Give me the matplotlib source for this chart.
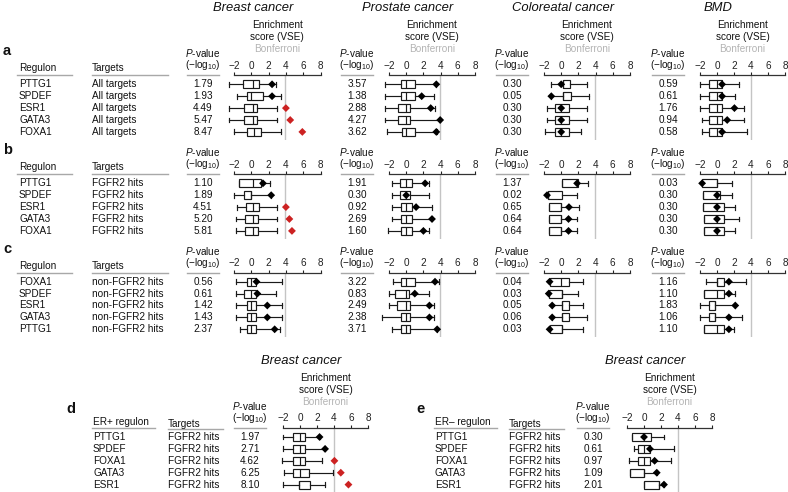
import matplotlib
matplotlib.use("Agg")
import matplotlib.pyplot as plt
from matplotlib.lines import Line2D

plt.rcParams['font.family'] = ['Liberation Sans', 'DejaVu Sans']
plt.rcParams['mathtext.fontset'] = 'custom'
plt.rcParams['mathtext.rm'] = 'Liberation Sans'
plt.rcParams['mathtext.it'] = 'Liberation Sans:italic'

# ---------------- data ----------------
DISEASES = ["Breast cancer", "Prostate cancer", "Coloreatal cancer", "BMD"]

REG_AB = ["PTTG1", "SPDEF", "ESR1", "GATA3", "FOXA1"]
REG_C = ["FOXA1", "SPDEF", "ESR1", "GATA3", "PTTG1"]
REG_DE = ["PTTG1", "SPDEF", "FOXA1", "GATA3", "ESR1"]
TARGET_A = "All targets"
TARGET_B = "FGFR2 hits"
TARGET_C = "non-FGFR2 hits"
TARGET_DE = "FGFR2 hits"

TICKS = [-2, 0, 2, 4, 6, 8]
BONF_LINE = 3.95          # Bonferroni threshold on the VSE axis
BONF_P = 4.3              # -log10 P cut-off used for red points

# P-values (-log10)
A_P = [[1.79, 1.93, 4.49, 5.47, 8.47],
       [3.57, 1.38, 2.88, 4.27, 3.62],
       [0.30, 0.05, 0.30, 0.30, 0.30],
       [0.59, 0.61, 1.76, 0.94, 0.58]]
B_P = [[1.10, 1.89, 4.51, 5.20, 5.81],
       [1.91, 0.30, 0.92, 2.69, 1.60],
       [1.37, 0.02, 0.65, 0.64, 0.64],
       [0.03, 0.30, 0.30, 0.30, 0.30]]
C_P = [[0.56, 0.61, 1.42, 1.43, 2.37],
       [3.22, 0.83, 2.49, 2.38, 3.71],
       [0.04, 0.03, 0.05, 0.06, 0.03],
       [1.16, 1.10, 1.83, 1.06, 1.10]]
D_P = [1.97, 2.71, 4.62, 6.25, 8.10]
E_P = [0.30, 0.61, 0.97, 1.09, 2.01]

# box statistics: (whisker low, q1, median, q3, whisker high)
A_BOX = [
    [(-2.6, -1.0, 0.2, 0.9, 2.9), (-1.6, -0.5, 0.0, 1.3, 3.4), (-2.6, -0.9, 0.2, 0.7, 3.0),
     (-2.6, -0.9, 0.2, 0.7, 3.0), (-2.0, -0.5, 0.3, 1.1, 3.4)],
    [(-2.5, -0.6, 0.0, 1.0, 3.5), (-2.5, -0.6, 0.0, 1.0, 3.2), (-2.5, -0.9, 0.0, 0.4, 3.35),
     (-2.5, -0.9, 0.0, 0.4, 3.95), (-2.2, -0.5, 0.0, 1.0, 3.6)],
    [(-1.15, 0.2, 0.2, 1.05, 3.05), (-1.15, 0.2, 0.2, 1.15, 3.25), (-1.7, -0.7, 0.0, 0.85, 3.05),
     (-1.7, -0.7, 0.0, 0.85, 3.05), (-1.9, -0.7, 0.0, 0.85, 2.3)],
    [(-2.0, -1.0, 0.0, 0.6, 2.55), (-2.0, -1.0, 0.0, 0.6, 2.15), (-2.0, -1.0, 0.0, 0.6, 3.15),
     (-1.8, -1.0, 0.0, 0.6, 3.2), (-1.75, -1.0, 0.0, 0.6, 3.5)],
]
A_VSE = [[2.4, 2.4, 4.0, 4.5, 5.9],
         [3.5, 1.8, 2.85, 3.95, 3.5],
         [0.0, -1.15, 0.0, 0.0, 0.0],
         [0.6, 0.6, 2.05, 1.2, 0.6]]

B_BOX = [
    [(-1.4, -1.4, 0.2, 1.1, 2.2), (-2.0, -0.85, 0.0, 0.0, 2.3), (-1.7, -0.65, 0.2, 0.9, 3.0),
     (-1.8, -0.7, 0.2, 0.8, 3.0), (-1.8, -0.7, 0.2, 0.8, 3.0)],
    [(-1.65, -0.7, 0.0, 0.65, 2.7), (-1.65, -0.7, 0.0, 0.45, 2.7), (-1.65, -0.6, 0.0, 0.65, 3.0),
     (-1.65, -0.6, 0.0, 0.65, 3.0), (-2.15, -0.6, 0.0, 0.65, 2.7)],
    [(0.1, 0.1, 1.85, 1.9, 3.1), (-1.5, -1.5, -1.5, 0.1, 1.85), (-1.45, -1.45, 0.0, 0.0, 2.1),
     (-1.45, -1.45, 0.0, 0.0, 1.85), (-1.45, -1.45, 0.0, 0.0, 1.85)],
    [(-1.75, -1.75, 0.0, 0.0, 1.75), (-1.6, -1.6, 0.0, 0.3, 1.75), (-1.6, -1.6, 0.0, 0.8, 2.15),
     (-1.55, -1.55, 0.0, 0.8, 2.55), (-1.55, -1.55, 0.0, 0.8, 2.15)],
]
B_VSE = [[1.35, 2.3, 4.0, 4.4, 4.7],
         [2.2, 0.0, 1.15, 3.0, 2.0],
         [1.85, -1.65, 0.9, 0.85, 0.85],
         [-1.75, 0.0, 0.0, 0.0, 0.0]]

C_BOX = [
    [(-1.8, -0.55, 0.0, 0.5, 3.6), (-1.8, -0.85, 0.0, 0.6, 2.9), (-1.8, -0.55, 0.0, 0.6, 3.6),
     (-1.8, -0.55, 0.0, 0.6, 3.6), (-1.3, -0.55, 0.0, 0.6, 3.3)],
    [(-1.55, -0.6, 0.0, 1.0, 3.85), (-2.0, -1.25, 0.0, 0.3, 2.7), (-2.0, -1.1, 0.0, 0.4, 3.2),
     (-2.8, -0.6, 0.0, 0.4, 3.2), (-1.65, -0.6, 0.0, 0.4, 3.6)],
    [(-1.35, -1.35, 0.0, 0.95, 2.5), (-1.45, -1.45, 0.1, 0.1, 1.9), (-1.05, 0.05, 0.05, 0.95, 2.5),
     (-1.05, 0.05, 0.05, 0.95, 3.05), (-1.35, -1.35, 0.1, 0.1, 2.5)],
    [(-1.25, 0.0, 0.0, 0.8, 3.45), (-1.55, -1.55, 0.0, 0.8, 2.15), (-2.05, -1.0, -0.2, -0.2, 2.15),
     (-2.05, -1.0, -0.2, -0.2, 2.95), (-1.55, -1.55, 0.0, 0.8, 2.05)],
]
C_VSE = [[0.6, 0.7, 1.85, 1.85, 2.7],
         [3.35, 1.0, 2.7, 2.7, 3.6],
         [-1.35, -1.45, -1.05, -1.05, -1.35],
         [1.4, 1.4, 2.15, 1.4, 1.4]]

D_BOX = [(-2.0, -0.85, 0.0, 0.6, 2.3), (-2.0, -0.85, 0.0, 0.6, 2.95), (-2.15, -0.85, 0.0, 0.6, 2.55),
         (-1.9, -0.85, 0.0, 1.1, 3.85), (-2.0, -0.1, -0.1, 1.2, 2.95)]
D_VSE = [2.3, 2.95, 4.05, 4.8, 5.7]
E_BOX = [(-1.4, -1.4, 0.0, 0.85, 2.35), (-1.2, -0.7, 0.0, 0.7, 3.5), (-1.75, -0.7, 0.0, 0.7, 3.2),
         (-1.65, -1.65, 0.0, 0.0, 1.5), (0.0, 0.0, 1.75, 1.75, 2.35)]
E_VSE = [0.0, 0.7, 1.25, 1.5, 2.35]

# ---------------- layout helpers ----------------
W, H = 788, 492
ROW = 11.9
FS = 7.2
GRAY = '#a8a8a8'
LINEC = '#1a1a1a'
RED = '#cc2222'

fig = plt.figure(figsize=(W / 100, H / 100), dpi=100)


def fx(x):
    return x / W


def fy(y):
    return 1 - y / H


def txt(x, y, s, **kw):
    kw.setdefault('fontsize', FS)
    kw.setdefault('va', 'center')
    kw.setdefault('color', '#111111')
    fig.text(fx(x), fy(y), s, **kw)


def hline(x1, x2, y, color=GRAY, lw=1.0):
    fig.add_artist(Line2D([fx(x1), fx(x2)], [fy(y), fy(y)], transform=fig.transFigure,
                          color=color, lw=lw))


def enrich_header(xa, xb, y0, title):
    xc = (xa + xb) / 2
    txt(xc - 24, y0 - 76, title, ha='center', fontsize=9.4, style='italic')
    txt(xc, y0 - 59, "Enrichment", ha='center')
    txt(xc, y0 - 47, "score (VSE)", ha='center')
    txt(xc, y0 - 35, "Bonferroni", ha='center', color='#b4b4b4')


def box_panel(xa, xb, y0, pcol, boxes, vse, pvals):
    # P-value column
    txt(pcol, y0 - 31, r'$\it{P}$-value', ha='center')
    txt(pcol, y0 - 19, r'(−log$_{10}$)', ha='center')
    hline(pcol - 16, pcol + 16, y0 - 9)
    for i, p in enumerate(pvals):
        txt(pcol, y0 + i * ROW, f"{p:.2f}", ha='center')
    # axes
    unit = (xb - xa) / 10.0
    left, right = xa - unit * 1.0, xb + unit * 0.5
    top, bottom = y0 - 9, y0 + 4 * ROW + 8
    ax = fig.add_axes([fx(left), fy(bottom), (right - left) / W, (bottom - top) / H])
    ax.patch.set_alpha(0)
    for s in ['left', 'right', 'bottom']:
        ax.spines[s].set_visible(False)
    ax.spines['top'].set_bounds(-2, 8)
    ax.spines['top'].set_linewidth(0.9)
    ax.spines['top'].set_color('#333333')
    ax.xaxis.tick_top()
    ax.set_xticks(TICKS)
    ax.tick_params(axis='x', direction='out', length=2.2, width=0.8, pad=1.2,
                   labelsize=FS, colors='#222222')
    ax.axvline(BONF_LINE, color='#c4c4c4', lw=1.0, zorder=0)
    stats = [dict(whislo=b[0], q1=b[1], med=b[2], q3=b[3], whishi=b[4]) for b in boxes]
    kw = dict(positions=list(range(len(stats))), widths=0.68, patch_artist=True,
              showfliers=False,
              boxprops=dict(facecolor='white', edgecolor=LINEC, linewidth=0.85),
              whiskerprops=dict(color=LINEC, linewidth=0.85),
              capprops=dict(color=LINEC, linewidth=0.85),
              medianprops=dict(color=LINEC, linewidth=0.85),
              capwidths=0.42, manage_ticks=False)
    try:
        ax.bxp(stats, orientation='horizontal', **kw)
    except TypeError:
        ax.bxp(stats, vert=False, **kw)
    cols = [RED if p > BONF_P else 'black' for p in pvals]
    ax.scatter(vse, list(range(len(vse))), marker='D', s=16, c=cols, zorder=5, linewidths=0)
    ax.set_yticks([])
    ax.set_xlim(-3, 8.5)
    ax.set_ylim(4 + 8 / ROW, -9 / ROW)
    return ax


# ---------------- panels a, b, c ----------------
COL_P = [203, 357, 512, 668]
COL_AX = [(234, 320.5), (389, 475), (544, 630), (700, 785)]
Y0 = {'a': 84.3, 'b': 183.3, 'c': 281.7}
PANEL = {'a': (REG_AB, TARGET_A, A_P, A_BOX, A_VSE),
         'b': (REG_AB, TARGET_B, B_P, B_BOX, B_VSE),
         'c': (REG_C, TARGET_C, C_P, C_BOX, C_VSE)}

for k in ['a', 'b', 'c']:
    y0 = Y0[k]
    regs, tgt, P, BOX, VSE = PANEL[k]
    txt(3, y0 - 33, k, fontsize=10.5, fontweight='bold')
    txt(19, y0 - 16, "Regulon")
    txt(92, y0 - 16, "Targets")
    hline(17, 72, y0 - 9)
    hline(92, 168, y0 - 9)
    for i, r in enumerate(regs):
        txt(19, y0 + i * ROW, r)
        txt(92, y0 + i * ROW, tgt)
    for j in range(4):
        box_panel(COL_AX[j][0], COL_AX[j][1], y0, COL_P[j], BOX[j], VSE[j], P[j])

for j in range(4):
    enrich_header(COL_AX[j][0], COL_AX[j][1], Y0['a'], DISEASES[j])

# ---------------- panels d, e ----------------
Y0_DE = 437
for letter, lx, rx, tx, pc, axr, P, BOX, VSE, head in [
        ('d', 66, 93, 168, 250, (283, 368), D_P, D_BOX, D_VSE, "ER+ regulon"),
        ('e', 416, 435, 509, 593, (627, 712), E_P, E_BOX, E_VSE, "ER– regulon")]:
    txt(lx, Y0_DE - 28, letter, fontsize=10.5, fontweight='bold')
    txt(rx, Y0_DE - 15, head)
    txt(tx, Y0_DE - 13, "Targets")
    hline(rx - 1, rx + 62, Y0_DE - 9)
    hline(tx, tx + 55, Y0_DE - 8)
    for i, r in enumerate(REG_DE):
        txt(rx, Y0_DE + i * ROW, r)
        txt(tx, Y0_DE + i * ROW, TARGET_DE)
    box_panel(axr[0], axr[1], Y0_DE, pc, BOX, VSE, P)
    enrich_header(axr[0], axr[1], Y0_DE, "Breast cancer")

fig.savefig("out.png", dpi=100)
